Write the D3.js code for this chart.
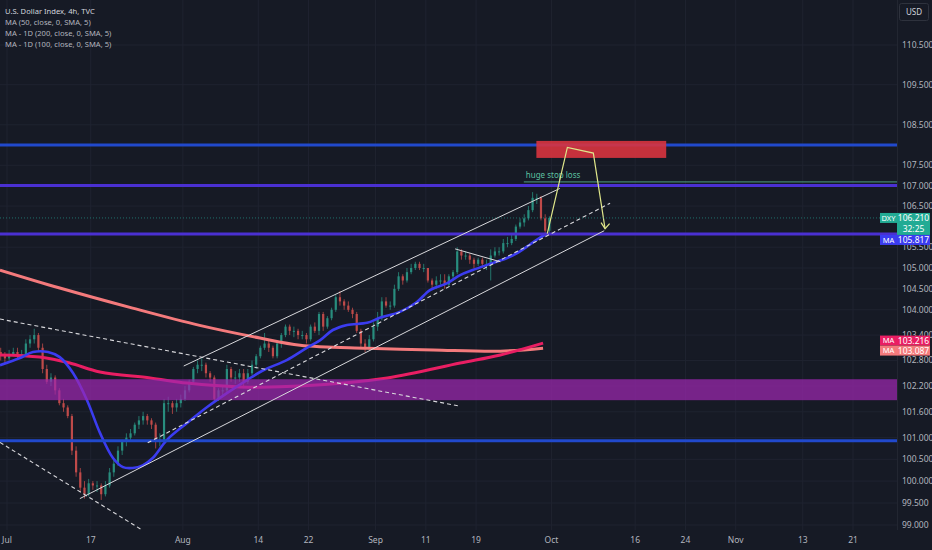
<!DOCTYPE html>
<html>
<head>
<meta charset="utf-8">
<script src="https://cdn.jsdelivr.net/npm/d3@7"></script>
<style>
  html, body { margin: 0; padding: 0; background: #161a25; }
  svg { display: block; font-family: "Noto Sans", "DejaVu Sans", sans-serif; }
</style>
</head>
<body>
<svg width="932" height="550"></svg>
<script>
// ---- data (DXY, 4h, TVC) ----

// price scale labels on the right
var priceTicks = [110.5, 109.5, 108.5, 107.5, 107, 106.5, 105.5, 105, 104.5, 104, 103.4, 102.8, 102.2, 101.6, 101, 100.5, 100, 99.5, 99];

// time scale labels (date of the tick, text)
var dateTicks = [
  ["2023-07-03", "Jul"], ["2023-07-17", "17"], ["2023-08-01", "Aug"], ["2023-08-14", "14"],
  ["2023-08-22", "22"], ["2023-09-01", "Sep"], ["2023-09-11", "11"], ["2023-09-19", "19"],
  ["2023-10-02", "Oct"], ["2023-10-16", "16"], ["2023-10-24", "24"], ["2023-11-01", "Nov"],
  ["2023-11-13", "13"], ["2023-11-21", "21"]
];

var legendLines = [
  "U.S. Dollar Index, 4h, TVC",
  "MA (50, close, 0, SMA, 5)",
  "MA - 1D (200, close, 0, SMA, 5)",
  "MA - 1D (100, close, 0, SMA, 5)"
];

// candles, two per trading day starting Jun 30: [high, low, close], open = previous close
var firstOpen = 103.0;
var barsStart = "2023-06-30";
var candles = [
  [103.1, 102.8, 102.95], [103.0, 102.75, 102.85],      // Jun 30
  [103.05, 102.8, 102.95], [103.1, 102.9, 103.0],       // Jul 3
  [103.1, 102.85, 102.95], [103.05, 102.85, 102.95],
  [103.3, 102.9, 103.2], [103.4, 103.1, 103.3],
  [103.55, 103.2, 103.4], [103.45, 103.0, 103.1],
  [103.2, 102.5, 102.6], [102.7, 102.25, 102.3],
  [102.5, 102.2, 102.4], [102.45, 102.0, 102.1],        // Jul 10
  [102.15, 101.75, 101.8], [101.9, 101.6, 101.7],
  [101.75, 101.45, 101.5], [101.55, 100.6, 100.7],
  [100.8, 100.1, 100.2], [100.3, 99.75, 99.85],
  [100.0, 99.6, 99.7], [100.05, 99.65, 99.95],
  [100.0, 99.8, 99.9], [100.0, 99.75, 99.9],            // Jul 17
  [99.95, 99.57, 99.7], [100.0, 99.65, 99.9],
  [100.3, 99.85, 100.2], [100.5, 100.1, 100.4],
  [100.8, 100.35, 100.7], [100.95, 100.6, 100.9],
  [101.1, 100.8, 101.0], [101.2, 100.9, 101.1],
  [101.35, 101.05, 101.3], [101.5, 101.2, 101.4],       // Jul 24
  [101.6, 101.3, 101.5], [101.55, 101.3, 101.4],
  [101.45, 101.2, 101.3], [101.35, 100.75, 100.9],
  [101.1, 100.8, 100.95], [101.9, 100.9, 101.8],
  [101.95, 101.6, 101.8], [101.85, 101.55, 101.7],
  [101.9, 101.6, 101.8], [102.0, 101.7, 101.9],         // Jul 31
  [102.2, 101.85, 102.1], [102.35, 102.05, 102.3],
  [102.65, 102.25, 102.6], [102.8, 102.5, 102.7],
  [102.85, 102.55, 102.7], [102.75, 102.4, 102.5],
  [102.55, 102.3, 102.4], [102.45, 101.8, 101.9],
  [102.15, 101.85, 102.1], [102.2, 101.95, 102.1],      // Aug 7
  [102.7, 102.05, 102.6], [102.65, 102.3, 102.4],
  [102.55, 102.25, 102.4], [102.6, 102.3, 102.5],
  [102.6, 102.15, 102.3], [102.6, 102.25, 102.5],
  [102.8, 102.45, 102.7], [102.95, 102.6, 102.9],
  [103.15, 102.85, 103.1], [103.45, 103.05, 103.2],     // Aug 14
  [103.3, 103.0, 103.1], [103.15, 102.85, 102.9],
  [103.25, 102.85, 103.2], [103.45, 103.1, 103.4],
  [103.65, 103.35, 103.6], [103.65, 103.4, 103.5],
  [103.6, 103.35, 103.5], [103.55, 103.3, 103.4],
  [103.5, 103.3, 103.4], [103.45, 103.2, 103.3],        // Aug 21
  [103.65, 103.25, 103.6], [103.7, 103.45, 103.5],
  [103.95, 103.4, 103.9], [103.95, 103.5, 103.6],
  [103.85, 103.55, 103.8], [104.05, 103.75, 104.0],
  [104.35, 103.95, 104.3], [104.45, 104.1, 104.2],
  [104.25, 104.0, 104.1], [104.2, 103.95, 104.0],       // Aug 28
  [104.05, 103.8, 103.9], [103.95, 103.45, 103.5],
  [103.55, 103.1, 103.2], [103.3, 103.0, 103.1],
  [103.4, 103.05, 103.3], [103.7, 103.25, 103.6],
  [103.95, 103.5, 103.8], [104.3, 103.75, 104.2],
  [104.3, 104.05, 104.1], [104.2, 104.0, 104.1],        // Sep 4
  [104.6, 104.05, 104.5], [104.9, 104.45, 104.8],
  [104.85, 104.6, 104.7], [105.0, 104.65, 104.9],
  [105.1, 104.85, 105.0], [105.15, 104.95, 105.1],
  [105.15, 104.95, 105.0], [105.1, 104.9, 105.0],
  [105.0, 104.65, 104.7], [104.75, 104.5, 104.6],       // Sep 11
  [104.8, 104.5, 104.7], [104.85, 104.6, 104.7],
  [104.85, 104.5, 104.6], [104.85, 104.55, 104.8],
  [104.95, 104.7, 104.9], [105.5, 104.85, 105.4],
  [105.45, 105.2, 105.3], [105.4, 105.2, 105.3],
  [105.35, 105.1, 105.2], [105.25, 105.0, 105.1],       // Sep 18
  [105.25, 105.05, 105.2], [105.25, 105.0, 105.1],
  [105.2, 104.95, 105.1], [105.45, 104.7, 105.3],
  [105.5, 105.25, 105.4], [105.5, 105.3, 105.4],
  [105.7, 105.35, 105.6], [105.75, 105.5, 105.6],
  [105.8, 105.55, 105.7], [106.05, 105.65, 106.0],      // Sep 25
  [106.2, 105.95, 106.1], [106.3, 106.0, 106.2],
  [106.5, 106.15, 106.4], [106.84, 106.35, 106.7],
  [106.8, 106.55, 106.7], [106.75, 106.15, 106.2],
  [106.3, 105.85, 105.9], [106.25, 105.85, 106.21]
];

// moving averages: [trading days since Jul 3, value]
var maBlue = [[-0.84, 102.69], [1.55, 102.86], [3.1, 103.0], [4.9, 103.0], [6.3, 102.88], [7.9, 102.5],
  [9.55, 101.87], [11.1, 101.11], [12.65, 100.53], [13.85, 100.32], [15.0, 100.3], [16.2, 100.36],
  [17.4, 100.53], [19.1, 100.95], [21.5, 101.34], [23.9, 101.71], [26.3, 102.04], [28.65, 102.34],
  [30.6, 102.57], [33.4, 102.81], [35.8, 103.1], [37.4, 103.28], [38.9, 103.52], [40.6, 103.64],
  [43.0, 103.69], [44.5, 103.81], [46.9, 103.95], [48.9, 104.18], [50.5, 104.47], [52.5, 104.63],
  [54.1, 104.83], [55.6, 104.95], [58.0, 105.12], [59.7, 105.24], [60.9, 105.36], [62.4, 105.56],
  [63.6, 105.73], [64.4, 105.82]];
var maPink = [[-0.84, 102.93], [3.9, 102.88], [7.5, 102.74], [11.1, 102.53], [17.1, 102.39], [21.5, 102.27],
  [27.8, 102.18], [35.0, 102.2], [45.4, 102.39], [54.1, 102.74], [58.9, 102.93], [64.0, 103.21]];
var maSalmon = [[-0.84, 104.95], [6.3, 104.52], [15.0, 104.04], [23.0, 103.63], [30.2, 103.33], [35.0, 103.16],
  [43.0, 103.09], [50.9, 103.05], [58.9, 103.02], [64.0, 103.09]];

var lastPrice = 106.21, lastLabel = "106.210", countdown = "32:25";
var maLabels = [105.817, 103.216, 103.087];

// drawings
var blueLevels = [108.0, 100.93];
var indigoLevels = [107.0, 105.82];
var stopLoss = { fromT: 61.7, price: 107.09, text: "huge stop loss" };
var zone = [101.87, 102.36];
var targetBox = { t: [63.2, 78.7], p: [107.68, 108.10] };
var upperChannel = [[21.1, 102.67], [66.0, 106.93]];
var lowerChannel = [[8.7, 99.6], [71.3, 105.9]];
var midDashed = [[16.8, 100.88], [72.0, 106.57]];
var topDashed = [[-0.84, 103.78], [54.1, 101.73]];
var lowDashed = [[-0.84, 100.89], [16.1, 98.89]];
var flagLine = [[53.5, 105.46], [58.9, 105.15]];
var arrowPath = [[64.5, 105.83], [66.9, 107.94], [70.0, 107.8], [71.4, 105.95]];

// ---- layout ----
var W = 932, H = 550, plotW = 897, plotH = 530;
var svg = d3.select("svg");

var t0 = new Date("2023-07-03T00:00:00Z");
function tradingDay(s) {
  var d = new Date(s + "T00:00:00Z");
  var wk = function(x) { var g = x.getUTCDay(); return g !== 0 && g !== 6; };
  if (d >= t0) return d3.utcDay.range(t0, d).filter(wk).length;
  return -d3.utcDay.range(d, t0).filter(wk).length;
}

var x = d3.scaleLinear().domain([0, 101]).range([7, 853]);
var y = d3.scaleLog().domain([99, 110.5]).range([525, 45]);

svg.append("rect").attr("width", W).attr("height", H).attr("fill", "#161a25");

svg.append("defs").append("clipPath").attr("id", "plot")
  .append("rect").attr("width", plotW).attr("height", plotH);

var g = svg.append("g").attr("clip-path", "url(#plot)");

// grid
g.selectAll(".hgrid").data(priceTicks).enter().append("line")
  .attr("x1", 0).attr("x2", plotW)
  .attr("y1", function(d) { return y(d); }).attr("y2", function(d) { return y(d); })
  .attr("stroke", "#1f2330").attr("stroke-width", 1);
g.selectAll(".vgrid").data(dateTicks).enter().append("line")
  .attr("x1", function(d) { return x(tradingDay(d[0])); }).attr("x2", function(d) { return x(tradingDay(d[0])); })
  .attr("y1", 0).attr("y2", plotH)
  .attr("stroke", "#1f2330").attr("stroke-width", 1);

// candles
var b0 = tradingDay(barsStart);
var bars = candles.map(function(c, i) {
  var o = i === 0 ? firstOpen : candles[i - 1][2];
  return { t: b0 + i * 0.5 + 0.25, o: o, h: c[0], l: c[1], c: c[2] };
});
var cg = g.append("g").attr("opacity", 0.9);
cg.selectAll("line").data(bars).enter().append("line")
  .attr("x1", function(d) { return x(d.t); }).attr("x2", function(d) { return x(d.t); })
  .attr("y1", function(d) { return y(d.h); }).attr("y2", function(d) { return y(d.l); })
  .attr("stroke", function(d) { return d.c >= d.o ? "#2b9a88" : "#d2504e"; })
  .attr("stroke-width", 0.8);
cg.selectAll("rect").data(bars).enter().append("rect")
  .attr("x", function(d) { return x(d.t) - 1.1; })
  .attr("width", 2.2)
  .attr("y", function(d) { return y(Math.max(d.o, d.c)); })
  .attr("height", function(d) { return Math.max(1, Math.abs(y(d.o) - y(d.c))); })
  .attr("fill", function(d) { return d.c >= d.o ? "#2b9a88" : "#d2504e"; });

// moving averages
var maLine = d3.line()
  .x(function(d) { return x(d[0]); })
  .y(function(d) { return y(d[1]); })
  .curve(d3.curveCatmullRom);
g.append("path").datum(maSalmon).attr("d", maLine).attr("fill", "none")
  .attr("stroke", "#f47a7c").attr("stroke-width", 3);
g.append("path").datum(maPink).attr("d", maLine).attr("fill", "none")
  .attr("stroke", "#e91e63").attr("stroke-width", 3);
g.append("path").datum(maBlue).attr("d", maLine).attr("fill", "none")
  .attr("stroke", "#3b3cf0").attr("stroke-width", 2.6);

// zone
g.append("rect")
  .attr("x", 0).attr("width", plotW)
  .attr("y", y(zone[1])).attr("height", y(zone[0]) - y(zone[1]))
  .attr("fill", "#9c27b0").attr("fill-opacity", 0.72);

// horizontal levels
g.selectAll(".blue").data(blueLevels).enter().append("line")
  .attr("x1", 0).attr("x2", plotW)
  .attr("y1", function(d) { return y(d); }).attr("y2", function(d) { return y(d); })
  .attr("stroke", "#2149cc").attr("stroke-width", 3);
g.selectAll(".indigo").data(indigoLevels).enter().append("line")
  .attr("x1", 0).attr("x2", plotW)
  .attr("y1", function(d) { return y(d); }).attr("y2", function(d) { return y(d); })
  .attr("stroke", "#4a30d2").attr("stroke-width", 3);

// stop loss line + text
g.append("line")
  .attr("x1", x(stopLoss.fromT)).attr("x2", plotW)
  .attr("y1", y(stopLoss.price)).attr("y2", y(stopLoss.price))
  .attr("stroke", "#4f9e84").attr("stroke-width", 1);
g.append("text")
  .attr("x", x(stopLoss.fromT) + 2).attr("y", y(stopLoss.price) - 4)
  .attr("fill", "#5cc0a0").attr("font-size", 8)
  .text(stopLoss.text);

// target box
g.append("rect")
  .attr("x", x(targetBox.t[0])).attr("width", x(targetBox.t[1]) - x(targetBox.t[0]))
  .attr("y", y(targetBox.p[1])).attr("height", y(targetBox.p[0]) - y(targetBox.p[1]))
  .attr("fill", "#d8343f").attr("fill-opacity", 0.9);

// channel and trend lines
var seg = d3.line().x(function(d) { return x(d[0]); }).y(function(d) { return y(d[1]); });
[upperChannel, lowerChannel, flagLine].forEach(function(l) {
  g.append("path").datum(l).attr("d", seg).attr("fill", "none")
    .attr("stroke", "#d8d8dc").attr("stroke-width", 1);
});
[midDashed, topDashed, lowDashed].forEach(function(l) {
  g.append("path").datum(l).attr("d", seg).attr("fill", "none")
    .attr("stroke", "#d8d8dc").attr("stroke-width", 1.1).attr("stroke-dasharray", "4,3");
});

// projected path with arrow
g.append("path").datum(arrowPath).attr("d", seg).attr("fill", "none")
  .attr("stroke", "#dfe68a").attr("stroke-width", 1.2);
var tip = arrowPath[arrowPath.length - 1];
var tx = x(tip[0]), ty = y(tip[1]);
g.append("path")
  .attr("d", "M" + (tx - 4) + "," + (ty - 6) + "L" + tx + "," + ty + "L" + (tx + 4.5) + "," + (ty - 5))
  .attr("fill", "none").attr("stroke", "#dfe68a").attr("stroke-width", 1.2);

// last price line
g.append("line")
  .attr("x1", 0).attr("x2", plotW)
  .attr("y1", y(lastPrice)).attr("y2", y(lastPrice))
  .attr("stroke", "#26a69a").attr("stroke-opacity", 0.6)
  .attr("stroke-width", 1).attr("stroke-dasharray", "1,2");

// ---- axes ----
svg.append("line").attr("x1", plotW + 0.5).attr("x2", plotW + 0.5).attr("y1", 0).attr("y2", plotH)
  .attr("stroke", "#222631");

var fmt = d3.format(".3f");
svg.selectAll(".plabel").data(priceTicks).enter().append("text")
  .attr("x", 902).attr("y", function(d) { return y(d); })
  .attr("dy", "0.35em").attr("fill", "#b2b5be").attr("font-size", 8.5)
  .text(function(d) { return fmt(d); });

svg.selectAll(".tlabel").data(dateTicks).enter().append("text")
  .attr("x", function(d) { return x(tradingDay(d[0])); }).attr("y", 543)
  .attr("text-anchor", "middle").attr("fill", "#b2b5be").attr("font-size", 8.5)
  .text(function(d) { return d[1]; });

// USD box
svg.append("rect").attr("x", 899.5).attr("y", 3.5).attr("width", 29).attr("height", 17).attr("rx", 2)
  .attr("fill", "#161a25").attr("stroke", "#2e323d");
svg.append("text").attr("x", 914).attr("y", 12).attr("dy", "0.35em").attr("text-anchor", "middle")
  .attr("fill", "#d1d4dc").attr("font-size", 8).text("USD");

// price labels on the scale
function tag(yc, name, value, bg, extra) {
  var h = extra ? 22 : 10;
  svg.append("rect").attr("x", 897).attr("y", yc - 5).attr("width", 33).attr("height", h).attr("fill", bg);
  svg.append("rect").attr("x", 880).attr("y", yc - 5).attr("width", 17).attr("height", 10).attr("fill", bg);
  svg.append("text").attr("x", 888.5).attr("y", yc).attr("dy", "0.35em").attr("text-anchor", "middle")
    .attr("fill", "#ffffff").attr("font-size", 7.5).text(name);
  svg.append("text").attr("x", 913.5).attr("y", yc).attr("dy", "0.35em").attr("text-anchor", "middle")
    .attr("fill", "#ffffff").attr("font-size", 8.5).text(value);
  if (extra) {
    svg.append("text").attr("x", 913.5).attr("y", yc + 11).attr("dy", "0.35em").attr("text-anchor", "middle")
      .attr("fill", "#ffffff").attr("font-size", 8.5).text(extra);
  }
}
var yLast = y(lastPrice);
tag(yLast, "DXY", lastLabel, "#22ab94", countdown);
var yBlue = Math.max(y(maLabels[0]), yLast + 22);
tag(yBlue, "MA", fmt(maLabels[0]), "#3b3cf0");
var mid = (y(maLabels[1]) + y(maLabels[2])) / 2;
tag(mid - 5, "MA", fmt(maLabels[1]), "#e91e63");
tag(mid + 5, "MA", fmt(maLabels[2]), "#f47a7c");

// legend
svg.selectAll(".legend").data(legendLines).enter().append("text")
  .attr("x", 5).attr("y", function(d, i) { return 11 + i * 11; })
  .attr("dy", "0.35em")
  .attr("fill", function(d, i) { return i === 0 ? "#d1d4dc" : "#b2b5be"; })
  .attr("font-size", 7.6)
  .text(function(d) { return d; });
</script>
</body>
</html>
